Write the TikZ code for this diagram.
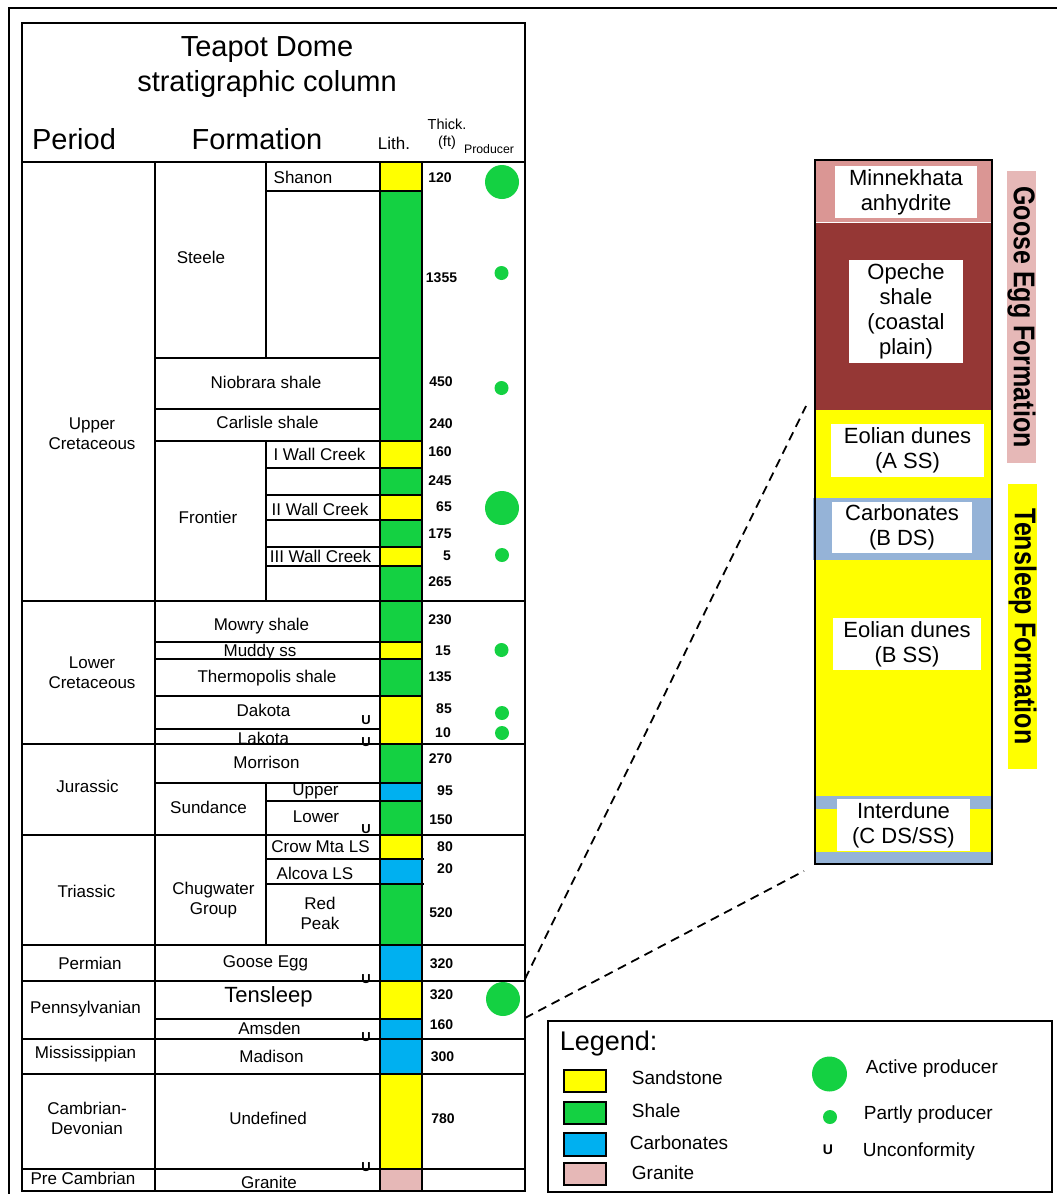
\documentclass[tikz,border=0pt]{standalone}
\usepackage{fontspec}
\setmainfont{Liberation Sans}
\usepackage{graphicx}
\usepackage{tikz}
\usetikzlibrary{shapes}
\definecolor{sandY}{RGB}{255,255,0}
\definecolor{shaleG}{RGB}{20,209,66}
\definecolor{carbB}{RGB}{0,176,240}
\definecolor{granP}{RGB}{230,184,183}
\definecolor{minnP}{RGB}{218,150,148}
\definecolor{opeR}{RGB}{149,55,53}
\definecolor{dolB}{RGB}{149,179,215}
\newcommand{\fsz}[2]{\fontsize{#1}{#2}\selectfont}
\tikzset{lab/.style={align=center, inner sep=0pt, font=\fsz{17}{20}},
  num/.style={inner sep=0pt, font=\bfseries\fsz{14}{16}},
  unc/.style={inner sep=0pt, font=\bfseries\fsz{13}{15}},
  bigdot/.style={circle, fill=shaleG, minimum size=34pt, inner sep=0pt},
  smalldot/.style={circle, fill=shaleG, minimum size=14pt, inner sep=0pt},
  wbox/.style={fill=white, align=center, inner sep=0pt, font=\fsz{22}{25}},
  legtxt/.style={anchor=base west, inner sep=0pt, font=\fsz{19}{22}},
  swatch/.style={draw=black, line width=1.5pt}}

\begin{document}
\begin{tikzpicture}[x=1pt, y=-1pt, line width=1.8pt]
\useasboundingbox (0,0) rectangle (1057,1194);
\draw[line width=1.5pt] (9,1194) -- (9,8) -- (1057,8);
 \fill[sandY] (380,162) rectangle (422,191);
 \fill[shaleG] (380,191) rectangle (422,441);
 \fill[sandY] (380,441) rectangle (422,468);
 \fill[shaleG] (380,468) rectangle (422,495);
 \fill[sandY] (380,495) rectangle (422,520);
 \fill[shaleG] (380,520) rectangle (422,547);
 \fill[sandY] (380,547) rectangle (422,566);
 \fill[shaleG] (380,566) rectangle (422,642);
 \fill[sandY] (380,642) rectangle (422,659);
 \fill[shaleG] (380,659) rectangle (422,696);
 \fill[sandY] (380,696) rectangle (422,744);
 \fill[shaleG] (380,744) rectangle (422,783);
 \fill[carbB] (380,783) rectangle (422,801);
 \fill[shaleG] (380,801) rectangle (422,835);
 \fill[sandY] (380,835) rectangle (422,859);
 \fill[carbB] (380,859) rectangle (422,884);
 \fill[shaleG] (380,884) rectangle (422,945);
 \fill[carbB] (380,945) rectangle (422,981);
 \fill[sandY] (380,981) rectangle (422,1019);
 \fill[carbB] (380,1019) rectangle (422,1074);
 \fill[sandY] (380,1074) rectangle (422,1169);
 \fill[granP] (380,1169) rectangle (422,1191);
\draw (22,23) rectangle (525,1191);
\draw (22,162) -- (525,162);
\draw (155,162) -- (155,1191);
\draw (380,162) -- (380,1191);
\draw (422,162) -- (422,1191);
\draw (266,162) -- (266,358);
\draw (266,441) -- (266,601);
\draw (266,783) -- (266,945);
\draw (266,191) -- (422,191);
\draw (155,358) -- (380,358);
\draw (155,409) -- (380,409);
\draw (155,441) -- (422,441);
\draw (266,468) -- (422,468);
\draw (266,495) -- (422,495);
\draw (266,520) -- (422,520);
\draw (266,547) -- (422,547);
\draw (266,566) -- (422,566);
\draw (22,601) -- (525,601);
\draw (155,642) -- (422,642);
\draw (155,659) -- (422,659);
\draw (155,696) -- (422,696);
\draw (155,729) -- (380,729);
\draw (22,744) -- (525,744);
\draw (155,783) -- (422,783);
\draw (266,801) -- (422,801);
\draw (22,835) -- (525,835);
\draw (266,859) -- (424,859);
\draw (266,884) -- (424,884);
\draw (22,945) -- (525,945);
\draw (22,981) -- (525,981);
\draw (155,1019) -- (422,1019);
\draw (22,1039) -- (525,1039);
\draw (22,1074) -- (525,1074);
\draw (22,1169) -- (525,1169);
 \node[anchor=base, inner sep=0pt, font=\fsz{29}{32}] (title1) at (267,56) {Teapot Dome};
 \node[anchor=base, inner sep=0pt, font=\fsz{29}{32}] (title2) at (267,91) {stratigraphic column};
 \node[anchor=base, inner sep=0pt, font=\fsz{29}{32}] (hPeriod) at (74,149) {Period};
 \node[anchor=base, inner sep=0pt, font=\fsz{29}{32}] (hForm) at (257,149) {Formation};
 \node[anchor=base, inner sep=0pt, font=\fsz{17}{20}] (hLith) at (394,149) {Lith.};
 \node[anchor=base, inner sep=0pt, font=\fsz{14.5}{17}] (hThick) at (447,129) {Thick.};
 \node[anchor=base, inner sep=0pt, font=\fsz{14.5}{17}] (hFt) at (447,146) {(ft)};
 \node[anchor=base, inner sep=0pt, font=\fsz{12.3}{14}] (hProd) at (489,153) {Producer};
 \node[lab] (pUC) at (92,434) {Upper\\Cretaceous};
 \node[lab] (pLC) at (92,673) {Lower\\Cretaceous};
 \node[lab] (pJur) at (87.5,786) {Jurassic};
 \node[lab] (pTri) at (86.5,891) {Triassic};
 \node[lab] (pPerm) at (90,963) {Permian};
 \node[lab] (pPenn) at (85.5,1009) {Pennsylvanian};
 \node[lab] (pMiss) at (85.5,1054) {Mississippian};
 \node[lab] (pCamb) at (87,1118) {Cambrian-\\Devonian};
 \node[lab] (pPre) at (83,1178) {Pre Cambrian};
 \node[lab] (fSteele) at (201,257) {Steele};
 \node[lab] (fShanon) at (303,177) {Shanon};
 \node[lab] (fNiob) at (266,382) {Niobrara shale};
 \node[lab] (fCarl) at (267.5,422) {Carlisle shale};
 \node[lab] (fFront) at (208,517) {Frontier};
 \node[lab] (fWC1) at (319.5,454) {I Wall Creek};
 \node[lab] (fWC2) at (320,509) {II Wall Creek};
 \node[lab] (fWC3) at (320.5,556) {III Wall Creek};
 \node[lab] (fMowry) at (261.5,626) {Mowry shale};
 \node[lab] (fMuddy) at (260,652) {Muddy ss};
 \node[lab] (fTherm) at (267,678) {Thermopolis shale};
 \node[lab] (fDak) at (263.5,710) {Dakota};
 \node[lab] (fLak) at (263.5,738) {Lakota};
 \node[lab] (fMorr) at (266.5,762) {Morrison};
 \node[lab] (fSund) at (208.5,807) {Sundance};
 \node[lab] (fUpper) at (315.5,791) {Upper};
 \node[lab] (fLower) at (316,817) {Lower};
 \node[lab] (fCrow) at (320.5,847) {Crow Mta LS};
 \node[lab] (fAlc) at (315,873) {Alcova LS};
 \node[lab] (fRed) at (320,913) {Red\\Peak};
 \node[lab] (fChug) at (213.5,900) {Chugwater\\Group};
 \node[lab] (fGoose) at (265.5,963) {Goose Egg};
 \node[lab, font=\fsz{22}{25}] (fTens) at (268.5,997) {Tensleep};
 \node[lab] (fAms) at (269.5,1028) {Amsden};
 \node[lab] (fMad) at (271.5,1056) {Madison};
 \node[lab] (fUndef) at (268,1118) {Undefined};
 \node[lab] (fGran) at (269,1182) {Granite};
 \node[num] (t1) at (440,178) {120};
 \node[num] (t2) at (441.5,278) {1355};
 \node[num] (t3) at (441,382) {450};
 \node[num] (t4) at (441,424) {240};
 \node[num] (t5) at (440,452) {160};
 \node[num] (t6) at (440,481) {245};
 \node[num] (t7) at (444,507) {65};
 \node[num] (t8) at (440,534) {175};
 \node[num] (t9) at (447,556) {5};
 \node[num] (t10) at (440,582) {265};
 \node[num] (t11) at (440,620) {230};
 \node[num] (t12) at (443,651) {15};
 \node[num] (t13) at (440,677) {135};
 \node[num] (t14) at (444,709) {85};
 \node[num] (t15) at (443,733) {10};
 \node[num] (t16) at (440.5,759) {270};
 \node[num] (t17) at (445,791) {95};
 \node[num] (t18) at (441,820) {150};
 \node[num] (t19) at (445,847) {80};
 \node[num] (t20) at (445,869) {20};
 \node[num] (t21) at (441,913) {520};
 \node[num] (t22) at (441.5,964) {320};
 \node[num] (t23) at (441.5,995) {320};
 \node[num] (t24) at (441.5,1025) {160};
 \node[num] (t25) at (442.5,1057) {300};
 \node[num] (t26) at (443,1119) {780};
 \node[unc] (u1) at (366,720) {U};
 \node[unc] (u2) at (366,742) {U};
 \node[unc] (u3) at (366,829) {U};
 \node[unc] (u4) at (366,979) {U};
 \node[unc] (u5) at (366,1037) {U};
 \node[unc] (u6) at (366,1167) {U};
 \node[bigdot] (dShanon) at (502,182) {};
 \node[smalldot] (dSteele) at (501.5,273) {};
 \node[smalldot] (dNiob) at (501.5,388) {};
 \node[bigdot] (dWC2) at (502,508) {};
 \node[smalldot] (dWC3) at (502,555) {};
 \node[smalldot] (dMuddy) at (501.5,650) {};
 \node[smalldot] (dDak) at (502,713) {};
 \node[smalldot] (dLak) at (502,733) {};
 \node[bigdot] (dTens) at (503,999) {};
 \fill[minnP] (815,160) rectangle (992,222);
 \fill[opeR] (815,223) rectangle (992,410);
 \fill[sandY] (815,410) rectangle (992,498);
 \fill[dolB] (813,498) rectangle (992,560);
 \fill[sandY] (815,560) rectangle (992,796);
 \fill[dolB] (815,796) rectangle (992,809);
 \fill[sandY] (815,809) rectangle (992,852);
 \fill[dolB] (815,852) rectangle (992,864);
\draw[line width=2.5pt] (815,160) rectangle (992,864);
 \node[wbox, minimum width=142pt, minimum height=52pt] (minn) at (906,192) {Minnekhata\\anhydrite};
 \node[wbox, minimum width=114pt, minimum height=103pt] (opeche) at (906,311.5) {Opeche\\shale\\(coastal\\plain)};
 \node[wbox, minimum width=153pt, minimum height=53pt] (eolA) at (907.5,450.5) {Eolian dunes\\(A SS)};
 \node[wbox, minimum width=140pt, minimum height=51pt] (carbB) at (902,527) {Carbonates\\(B DS)};
 \node[wbox, minimum width=148pt, minimum height=52pt] (eolB) at (907,644) {Eolian dunes\\(B SS)};
 \node[wbox, minimum width=133pt, minimum height=52pt] (interC) at (903.5,825) {Interdune\\(C DS/SS)};
 \node[fill=granP, rotate=-90, minimum width=292pt, minimum height=29pt, inner sep=0pt, font=\bfseries\fsz{25}{28}] (gooseF) at (1021.5,317) {\scalebox{1}[1.2]{Goose Egg Formation}};
 \node[fill=sandY, rotate=-90, minimum width=285pt, minimum height=29pt, inner sep=0pt, font=\bfseries\fsz{25}{28}] (tensF) at (1022.5,626.5) {\scalebox{1}[1.2]{Tensleep Formation}};
\coordinate (zTop) at (525,979);
\coordinate (zBot) at (525,1018);
\coordinate (cTop) at (806,406);
\coordinate (cBot) at (804,871);
\draw[dash pattern=on 9pt off 6pt] (zTop) -- (cTop);
\draw[dash pattern=on 9pt off 6pt] (zBot) -- (cBot);
\draw (548,1021) rectangle (1052,1192);
 \node[anchor=base west, inner sep=0pt, font=\fsz{27}{30}] (legT) at (559,1050) {Legend:};
 \draw[swatch, fill=sandY] (564,1070) rectangle (606,1092);
 \draw[swatch, fill=shaleG] (564,1102) rectangle (606,1124);
 \draw[swatch, fill=carbB] (564,1133) rectangle (606,1156);
 \draw[swatch, fill=granP] (564,1163) rectangle (606,1185);
 \node[legtxt] (lSand) at (631,1084) {Sandstone};
 \node[legtxt] (lShale) at (631,1117) {Shale};
 \node[legtxt] (lCarb) at (629,1149) {Carbonates};
 \node[legtxt] (lGran) at (631,1179) {Granite};
 \node[bigdot, minimum size=35pt] (lBig) at (829.5,1074) {};
 \node[smalldot] (lSmall) at (830,1117) {};
 \node[unc, font=\bfseries\fsz{14}{16}] (lU) at (828,1150) {U};
 \node[legtxt] (lAct) at (865,1073) {Active producer};
 \node[legtxt] (lPart) at (863,1119) {Partly producer};
 \node[legtxt] (lUnc) at (862,1156) {Unconformity};
\end{tikzpicture}
\end{document}
